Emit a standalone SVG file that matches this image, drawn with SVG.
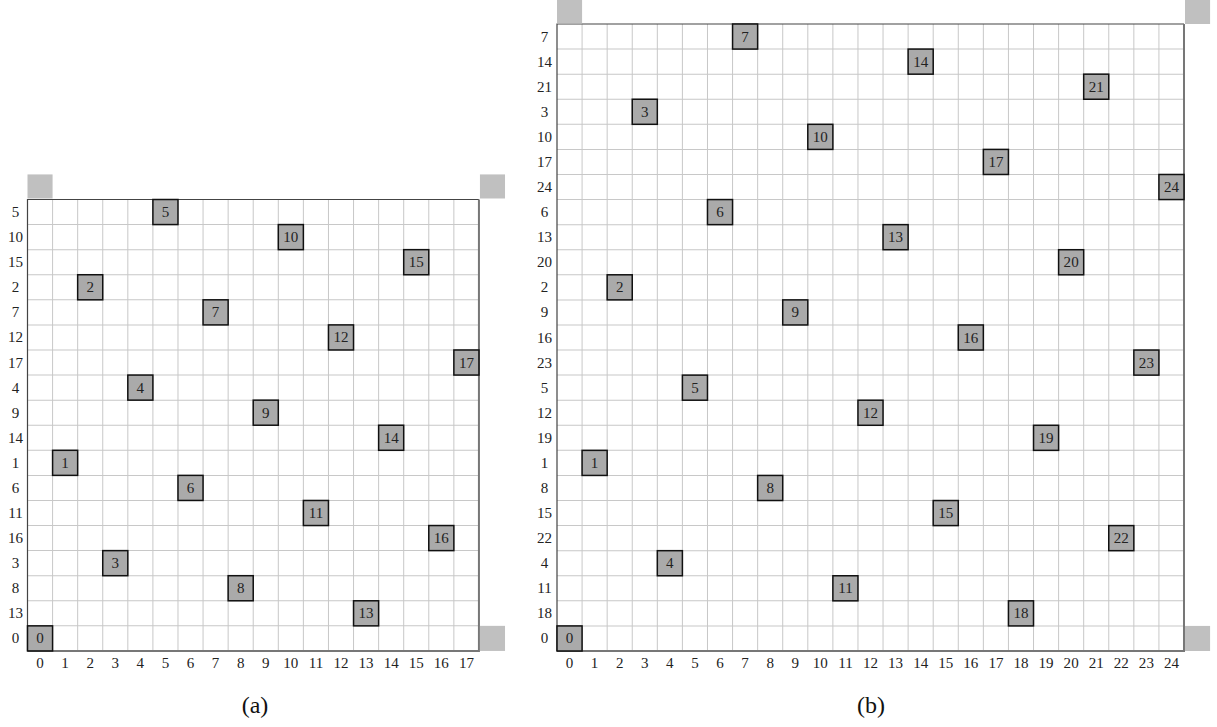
<svg xmlns="http://www.w3.org/2000/svg" width="1217" height="727" viewBox="0 0 1217 727">
<style>
text{font-family:"Liberation Serif","Times New Roman",serif;font-size:15px;fill:#222;text-anchor:middle}
.cap{font-size:24px;fill:#111}
.grid{fill:none;stroke:#c8c8c8;stroke-width:1}
.bTL{fill:none;stroke:#444;stroke-width:1.2}
.bBR{fill:none;stroke:#777;stroke-width:2}
.corner{fill:#c0c0c0}
.node rect{fill:#aaaaaa;stroke:#111;stroke-width:1.5}
</style>
<rect width="1217" height="727" fill="#fff"/>

<g id="diagram-a" transform="translate(27.5,199.5) scale(1.0032)">
  <path class="grid" d="M25 0V450M50 0V450M75 0V450M100 0V450M125 0V450M150 0V450M175 0V450M200 0V450M225 0V450M250 0V450M275 0V450M300 0V450M325 0V450M350 0V450M375 0V450M400 0V450M425 0V450M0 25H450M0 50H450M0 75H450M0 100H450M0 125H450M0 150H450M0 175H450M0 200H450M0 225H450M0 250H450M0 275H450M0 300H450M0 325H450M0 350H450M0 375H450M0 400H450M0 425H450"/>
  <path class="bTL" d="M0 450V0H450"/>
  <path class="bBR" d="M450 0V450H0"/>
  <rect class="corner" x="0" y="-25" width="25" height="24"/>
  <rect class="corner" x="451" y="-25" width="25" height="24"/>
  <rect class="corner" x="451" y="425" width="25" height="25"/>
  <g id="rows-a">
    <text x="-12" y="17.5">5</text><text x="-12" y="42.5">10</text><text x="-12" y="67.5">15</text><text x="-12" y="92.5">2</text><text x="-12" y="117.5">7</text><text x="-12" y="142.5">12</text><text x="-12" y="167.5">17</text><text x="-12" y="192.5">4</text><text x="-12" y="217.5">9</text><text x="-12" y="242.5">14</text><text x="-12" y="267.5">1</text><text x="-12" y="292.5">6</text><text x="-12" y="317.5">11</text><text x="-12" y="342.5">16</text><text x="-12" y="367.5">3</text><text x="-12" y="392.5">8</text><text x="-12" y="417.5">13</text><text x="-12" y="442.5">0</text>
  </g>
  <g id="cols-a">
    <text x="12.5" y="467">0</text><text x="37.5" y="467">1</text><text x="62.5" y="467">2</text><text x="87.5" y="467">3</text><text x="112.5" y="467">4</text><text x="137.5" y="467">5</text><text x="162.5" y="467">6</text><text x="187.5" y="467">7</text><text x="212.5" y="467">8</text><text x="237.5" y="467">9</text><text x="262.5" y="467">10</text><text x="287.5" y="467">11</text><text x="312.5" y="467">12</text><text x="337.5" y="467">13</text><text x="362.5" y="467">14</text><text x="387.5" y="467">15</text><text x="412.5" y="467">16</text><text x="437.5" y="467">17</text>
  </g>
  <g id="a-n5" class="node"><rect x="125" y="0" width="25" height="25"/><text x="137.5" y="17.5">5</text></g>
  <g id="a-n10" class="node"><rect x="250" y="25" width="25" height="25"/><text x="262.5" y="42.5">10</text></g>
  <g id="a-n15" class="node"><rect x="375" y="50" width="25" height="25"/><text x="387.5" y="67.5">15</text></g>
  <g id="a-n2" class="node"><rect x="50" y="75" width="25" height="25"/><text x="62.5" y="92.5">2</text></g>
  <g id="a-n7" class="node"><rect x="175" y="100" width="25" height="25"/><text x="187.5" y="117.5">7</text></g>
  <g id="a-n12" class="node"><rect x="300" y="125" width="25" height="25"/><text x="312.5" y="142.5">12</text></g>
  <g id="a-n17" class="node"><rect x="425" y="150" width="25" height="25"/><text x="437.5" y="167.5">17</text></g>
  <g id="a-n4" class="node"><rect x="100" y="175" width="25" height="25"/><text x="112.5" y="192.5">4</text></g>
  <g id="a-n9" class="node"><rect x="225" y="200" width="25" height="25"/><text x="237.5" y="217.5">9</text></g>
  <g id="a-n14" class="node"><rect x="350" y="225" width="25" height="25"/><text x="362.5" y="242.5">14</text></g>
  <g id="a-n1" class="node"><rect x="25" y="250" width="25" height="25"/><text x="37.5" y="267.5">1</text></g>
  <g id="a-n6" class="node"><rect x="150" y="275" width="25" height="25"/><text x="162.5" y="292.5">6</text></g>
  <g id="a-n11" class="node"><rect x="275" y="300" width="25" height="25"/><text x="287.5" y="317.5">11</text></g>
  <g id="a-n16" class="node"><rect x="400" y="325" width="25" height="25"/><text x="412.5" y="342.5">16</text></g>
  <g id="a-n3" class="node"><rect x="75" y="350" width="25" height="25"/><text x="87.5" y="367.5">3</text></g>
  <g id="a-n8" class="node"><rect x="200" y="375" width="25" height="25"/><text x="212.5" y="392.5">8</text></g>
  <g id="a-n13" class="node"><rect x="325" y="400" width="25" height="25"/><text x="337.5" y="417.5">13</text></g>
  <g id="a-n0" class="node"><rect x="0" y="425" width="25" height="25"/><text x="12.5" y="442.5">0</text></g>
</g>

<g id="diagram-b" transform="translate(557,24) scale(1.0032)">
  <path class="grid" d="M25 0V625M50 0V625M75 0V625M100 0V625M125 0V625M150 0V625M175 0V625M200 0V625M225 0V625M250 0V625M275 0V625M300 0V625M325 0V625M350 0V625M375 0V625M400 0V625M425 0V625M450 0V625M475 0V625M500 0V625M525 0V625M550 0V625M575 0V625M600 0V625M0 25H625M0 50H625M0 75H625M0 100H625M0 125H625M0 150H625M0 175H625M0 200H625M0 225H625M0 250H625M0 275H625M0 300H625M0 325H625M0 350H625M0 375H625M0 400H625M0 425H625M0 450H625M0 475H625M0 500H625M0 525H625M0 550H625M0 575H625M0 600H625"/>
  <path class="bTL" d="M0 625V0H625"/>
  <path class="bBR" d="M625 0V625H0"/>
  <rect class="corner" x="0" y="-24" width="25" height="23.5"/>
  <rect class="corner" x="626" y="-24" width="25" height="24"/>
  <rect class="corner" x="626" y="600" width="25" height="25"/>
  <g id="rows-b">
    <text x="-12.5" y="17.5">7</text><text x="-12.5" y="42.5">14</text><text x="-12.5" y="67.5">21</text><text x="-12.5" y="92.5">3</text><text x="-12.5" y="117.5">10</text><text x="-12.5" y="142.5">17</text><text x="-12.5" y="167.5">24</text><text x="-12.5" y="192.5">6</text><text x="-12.5" y="217.5">13</text><text x="-12.5" y="242.5">20</text><text x="-12.5" y="267.5">2</text><text x="-12.5" y="292.5">9</text><text x="-12.5" y="317.5">16</text><text x="-12.5" y="342.5">23</text><text x="-12.5" y="367.5">5</text><text x="-12.5" y="392.5">12</text><text x="-12.5" y="417.5">19</text><text x="-12.5" y="442.5">1</text><text x="-12.5" y="467.5">8</text><text x="-12.5" y="492.5">15</text><text x="-12.5" y="517.5">22</text><text x="-12.5" y="542.5">4</text><text x="-12.5" y="567.5">11</text><text x="-12.5" y="592.5">18</text><text x="-12.5" y="617.5">0</text>
  </g>
  <g id="cols-b">
    <text x="12.5" y="642">0</text><text x="37.5" y="642">1</text><text x="62.5" y="642">2</text><text x="87.5" y="642">3</text><text x="112.5" y="642">4</text><text x="137.5" y="642">5</text><text x="162.5" y="642">6</text><text x="187.5" y="642">7</text><text x="212.5" y="642">8</text><text x="237.5" y="642">9</text><text x="262.5" y="642">10</text><text x="287.5" y="642">11</text><text x="312.5" y="642">12</text><text x="337.5" y="642">13</text><text x="362.5" y="642">14</text><text x="387.5" y="642">15</text><text x="412.5" y="642">16</text><text x="437.5" y="642">17</text><text x="462.5" y="642">18</text><text x="487.5" y="642">19</text><text x="512.5" y="642">20</text><text x="537.5" y="642">21</text><text x="562.5" y="642">22</text><text x="587.5" y="642">23</text><text x="612.5" y="642">24</text>
  </g>
  <g id="b-n7" class="node"><rect x="175" y="0" width="25" height="25"/><text x="187.5" y="17.5">7</text></g>
  <g id="b-n14" class="node"><rect x="350" y="25" width="25" height="25"/><text x="362.5" y="42.5">14</text></g>
  <g id="b-n21" class="node"><rect x="525" y="50" width="25" height="25"/><text x="537.5" y="67.5">21</text></g>
  <g id="b-n3" class="node"><rect x="75" y="75" width="25" height="25"/><text x="87.5" y="92.5">3</text></g>
  <g id="b-n10" class="node"><rect x="250" y="100" width="25" height="25"/><text x="262.5" y="117.5">10</text></g>
  <g id="b-n17" class="node"><rect x="425" y="125" width="25" height="25"/><text x="437.5" y="142.5">17</text></g>
  <g id="b-n24" class="node"><rect x="600" y="150" width="25" height="25"/><text x="612.5" y="167.5">24</text></g>
  <g id="b-n6" class="node"><rect x="150" y="175" width="25" height="25"/><text x="162.5" y="192.5">6</text></g>
  <g id="b-n13" class="node"><rect x="325" y="200" width="25" height="25"/><text x="337.5" y="217.5">13</text></g>
  <g id="b-n20" class="node"><rect x="500" y="225" width="25" height="25"/><text x="512.5" y="242.5">20</text></g>
  <g id="b-n2" class="node"><rect x="50" y="250" width="25" height="25"/><text x="62.5" y="267.5">2</text></g>
  <g id="b-n9" class="node"><rect x="225" y="275" width="25" height="25"/><text x="237.5" y="292.5">9</text></g>
  <g id="b-n16" class="node"><rect x="400" y="300" width="25" height="25"/><text x="412.5" y="317.5">16</text></g>
  <g id="b-n23" class="node"><rect x="575" y="325" width="25" height="25"/><text x="587.5" y="342.5">23</text></g>
  <g id="b-n5" class="node"><rect x="125" y="350" width="25" height="25"/><text x="137.5" y="367.5">5</text></g>
  <g id="b-n12" class="node"><rect x="300" y="375" width="25" height="25"/><text x="312.5" y="392.5">12</text></g>
  <g id="b-n19" class="node"><rect x="475" y="400" width="25" height="25"/><text x="487.5" y="417.5">19</text></g>
  <g id="b-n1" class="node"><rect x="25" y="425" width="25" height="25"/><text x="37.5" y="442.5">1</text></g>
  <g id="b-n8" class="node"><rect x="200" y="450" width="25" height="25"/><text x="212.5" y="467.5">8</text></g>
  <g id="b-n15" class="node"><rect x="375" y="475" width="25" height="25"/><text x="387.5" y="492.5">15</text></g>
  <g id="b-n22" class="node"><rect x="550" y="500" width="25" height="25"/><text x="562.5" y="517.5">22</text></g>
  <g id="b-n4" class="node"><rect x="100" y="525" width="25" height="25"/><text x="112.5" y="542.5">4</text></g>
  <g id="b-n11" class="node"><rect x="275" y="550" width="25" height="25"/><text x="287.5" y="567.5">11</text></g>
  <g id="b-n18" class="node"><rect x="450" y="575" width="25" height="25"/><text x="462.5" y="592.5">18</text></g>
  <g id="b-n0" class="node"><rect x="0" y="600" width="25" height="25"/><text x="12.5" y="617.5">0</text></g>
</g>

<g id="connectors"></g>

<text class="cap" x="255" y="713">(a)</text>
<text class="cap" x="871" y="713">(b)</text>
</svg>
